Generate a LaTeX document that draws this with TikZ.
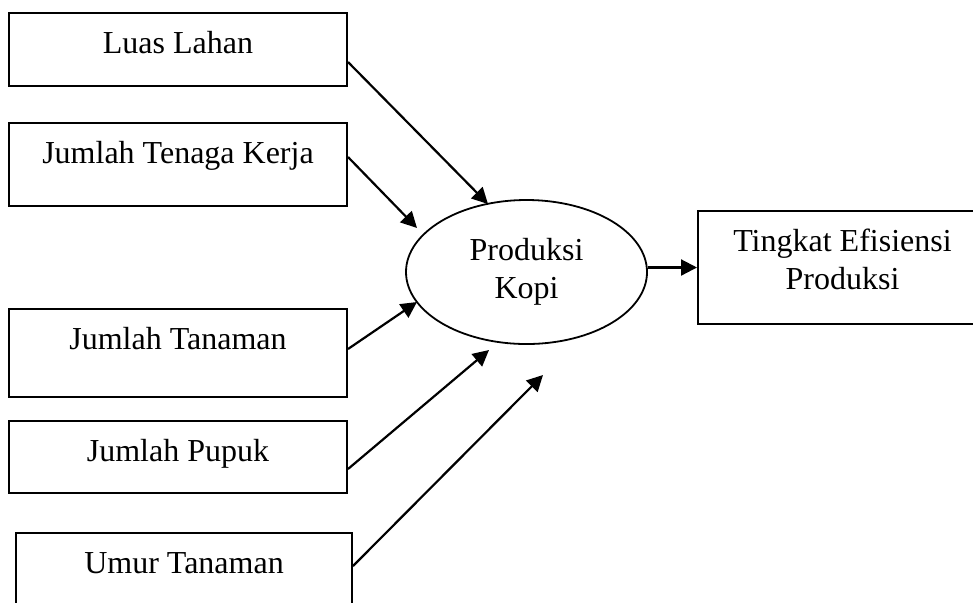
\documentclass[tikz,border=0pt]{standalone}
\usepackage{fontspec}
\setmainfont{Liberation Serif}
\usetikzlibrary{arrows.meta,shapes.geometric}

\begin{document}
\begin{tikzpicture}[
			x=0.5pt, y=-0.5pt,
			font=\fontsize{16pt}{19pt}\selectfont,
			factor/.style={rectangle,draw=black,line width=1pt,
			inner sep=0pt,minimum width=169pt},
			caption/.style={anchor=base,yshift=-20.5pt,align=center,inner sep=0pt},
			flow/.style={>={Triangle[length=8pt,width=8pt]},draw=black,line width=1.1pt,->}
			]
			\useasboundingbox (0,0) rectangle (973,602);
			\clip (0,0) rectangle (973,602);
			% faktor produksi
			\node[factor, minimum height=36.5pt, label={[caption]north:Luas Lahan}] (lahan) at (178,49.5) {};
			\node[factor, minimum height=41.5pt, label={[caption]north:Jumlah Tenaga Kerja}] (tenaga) at (178,164.5) {};
			\node[factor, minimum height=44pt, label={[caption]north:Jumlah Tanaman}] (tanaman) at (178,353) {};
			\node[factor, minimum height=36pt, label={[caption]north:Jumlah Pupuk}] (pupuk) at (178,457) {};
			\node[factor, minimum width=168pt, minimum height=43.5pt, label={[caption]north:Umur Tanaman}] (umur) at (184,576.5) {};
			% produksi dan efisiensi
			\node[ellipse, draw=black, line width=0.9pt, minimum width=120.5pt, minimum height=72pt,
				inner sep=0pt, align=center] (kopi) at (526.5,272) {Produksi\\Kopi};
			\node[factor, minimum width=144.5pt, minimum height=56.5pt,
				label={[caption, yshift=-19pt]north:Tingkat Efisiensi\\Produksi}] (efisiensi) at (842.5,267.5) {};
			\coordinate (t1) at (488,204);
			\coordinate (t2) at (417,228);
			\coordinate (t3) at (417,302);
			\coordinate (t4) at (489,350);
			\coordinate (t5) at (543,375);
			\draw[flow] ([yshift=-6.25pt]lahan.east) -- (t1);
			\draw[flow] ([yshift=3.75pt]tenaga.east) -- (t2);
			\draw[flow] ([yshift=2pt]tanaman.east) -- (t3);
			\draw[flow] ([yshift=-6pt]pupuk.east) -- (t4);
			\draw[flow] ([yshift=5.25pt]umur.east) -- (t5);
			\draw[flow] (kopi.east |- efisiensi.west) -- (efisiensi.west);
		\end{tikzpicture}
\end{document}
